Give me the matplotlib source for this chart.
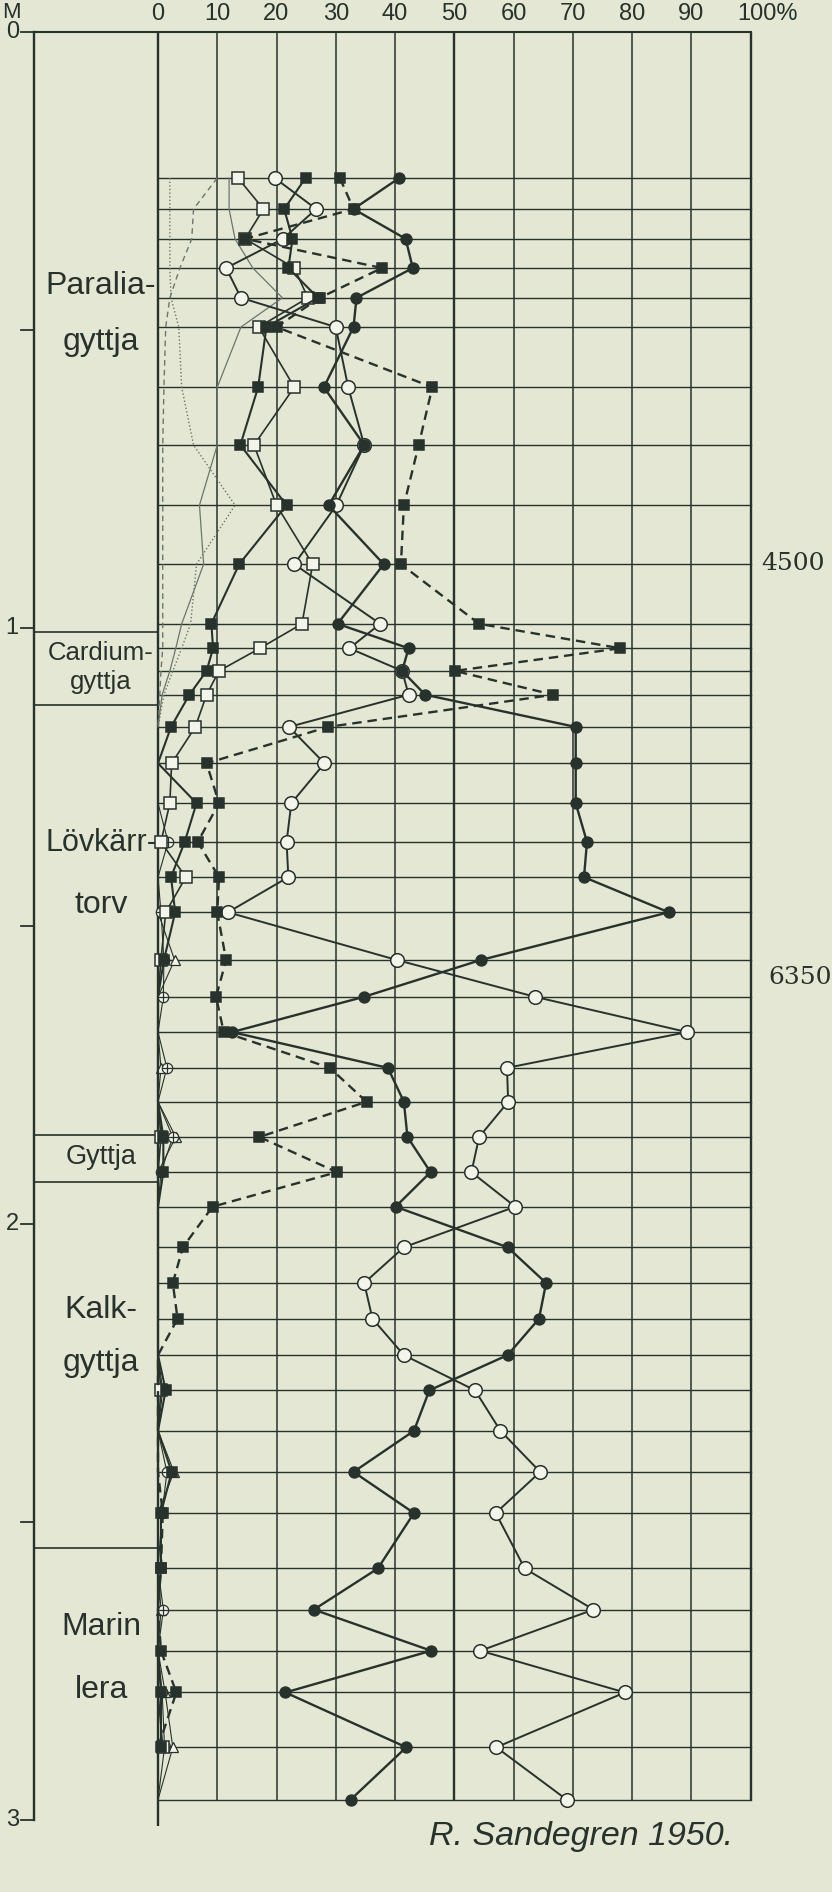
import numpy as np
import matplotlib
matplotlib.use("Agg")
import matplotlib.pyplot as plt

nan = np.nan

# ---------------- data ----------------
depths = [0.245, 0.297, 0.347, 0.396, 0.446, 0.495, 0.596, 0.693, 0.794, 0.893,
          0.993, 1.034, 1.072, 1.112, 1.166, 1.227, 1.294, 1.359, 1.418, 1.477,
          1.557, 1.619, 1.678, 1.738, 1.795, 1.854, 1.913, 1.971, 2.039, 2.099,
          2.159, 2.220, 2.279, 2.347, 2.416, 2.485, 2.578, 2.647, 2.716, 2.786,
          2.878, 2.966]

filled_circle = [40.7, 33.0, 41.8, 43.0, 33.5, 33.0, 28.0, 34.8, 28.8, 38.1,
                 30.3, 42.3, 41.2, 45.1, 70.5, 70.5, 70.5, 72.4, 71.9, 86.2,
                 54.5, 34.7, 12.5, 38.8, 41.5, 42.1, 46.0, 40.1, 59.0, 65.5,
                 64.3, 59.0, 45.8, 43.2, 33.0, 43.2, 37.1, 26.3, 46.1, 21.5,
                 41.9, 32.5]

open_circle = [19.7, 26.7, 21.1, 11.5, 14.0, 30.0, 32.1, 34.8, 30.1, 23.0,
               37.5, 32.3, 41.2, 42.3, 22.1, 28.1, 22.5, 21.7, 22.0, 11.8,
               40.3, 63.7, 89.3, 58.9, 59.1, 54.2, 52.9, 60.3, 41.5, 34.8,
               36.2, 41.5, 53.5, 57.8, 64.5, 57.0, 61.9, 73.5, 54.4, 78.8,
               57.1, 69.0]

dashed_square = [30.7, 33.0, 14.7, 37.8, 27.3, 20.0, 46.3, 44.0, 41.5, 41.0,
                 54.2, 78.0, 50.1, 66.7, 28.7, 8.2, 10.3, 6.7, 10.3, 10.0,
                 11.5, 9.8, 11.1, 29.0, 35.2, 17.1, 30.2, 9.2, 4.2, 2.5,
                 3.3, 0.0, 0.0, 0.0, 0.0, 0.8, 0.5, 0.0, 0.5, 3.1,
                 0.0, nan]

solid_square = [24.9, 21.3, 22.7, 22.0, 27.0, 18.3, 16.9, 13.9, 21.7, 13.7,
                9.0, 9.3, 8.2, 5.3, 2.2, 0.0, 6.5, 4.5, 2.2, 2.9,
                1.0, 0.0, 0.0, 0.0, 0.0, 0.9, 0.9, 0.0, 0.0, 0.0,
                0.0, 0.0, 1.3, 0.0, 2.3, 0.5, 0.5, 0.0, 0.0, 0.5,
                0.5, nan]

open_square = [13.5, 17.8, 14.7, 23.0, 25.3, 17.0, 23.0, 16.2, 20.0, 26.1,
               24.3, 17.2, 10.3, 8.2, 6.3, 2.3, 2.0, 0.5, 4.7, 1.3,
               0.5, 0.0, 0.0, 0.0, 0.0, 0.5, 0.0, 0.0, 0.0, 0.0,
               0.0, 0.0, 0.5, 0.0, 0.0, 0.0, 0.0, 0.0, 0.0, 0.0,
               0.8, nan]

cross_circle = [nan, nan, nan, nan, nan, nan, nan, nan, nan, nan,
                nan, nan, nan, nan, nan, nan, 0.0, 1.7, 0.0, 0.5,
                1.0, 0.9, 0.0, 1.5, 0.0, 2.5, 0.5, 0.0, 0.0, 0.0,
                0.0, 0.0, 0.8, 0.0, 1.5, 0.7, 0.0, 0.9, 0.0, 0.7,
                1.1, 0.0]

triangle = [nan, nan, nan, nan, nan, nan, nan, nan, nan, nan,
            nan, nan, nan, nan, nan, nan, nan, nan, nan, 0.0,
            2.8, 0.0, 0.0, 0.5, 0.0, 3.0, 0.0, 0.0, 0.0, 0.0,
            0.0, 0.0, 0.0, 0.0, 2.7, 0.0, 0.0, 0.5, 0.0, 1.2,
            2.5, 0.0]

thin_dotted = [2.0, 2.0, 2.0, 2.0, 2.2, 3.5, 4.0, 6.0, 13.0, 6.5,
               5.5, 4.0, 2.5, 1.0, 0.0] + [nan] * 27
thin_dashed = [10.0, 6.0, 5.7, 3.7, 2.0, 1.3, 1.0, 0.8, 0.8, 0.8,
               0.8, 0.8, 0.5, 0.3, 0.0] + [nan] * 27
thin_solid = [12.0, 12.0, 13.0, 16.0, 21.0, 14.0, 10.0, 10.0, 7.0, 7.7,
              4.0, 3.0, 2.0, 0.7, 0.0] + [nan] * 27

pct_ticks = [0, 10, 20, 30, 40, 50, 60, 70, 80, 90, 100]
pct_labels = ["0", "10", "20", "30", "40", "50", "60", "70", "80", "90", "100%"]
depth_ticks = [0, 0.5, 1, 1.5, 2, 2.5, 3]
depth_labels = {0: "0", 1: "1", 2: "2", 3: "3"}

sediment_bounds = [1.006, 1.129, 1.851, 1.929, 2.544]
sediment_labels = ["Paralia-", "gyttja", "Cardium-", "gyttja", "Lövkärr-", "torv",
                   "Gyttja", "Kalk-", "gyttja", "Marin", "lera"]
sediment_label_depths = [0.426, 0.520, 1.042, 1.090, 1.361, 1.465,
                         1.888, 2.144, 2.233, 2.676, 2.782]
sediment_label_sizes = [23, 23, 18.5, 18.5, 22, 23, 19.5, 23, 23, 23, 23]

age_labels = ["4500", "6350"]
age_depths = [0.891, 1.587]
age_x = [101.8, 103.1]

# ---------------- style ----------------
BG = "#e3e7d3"
INK = "#28322c"
OPEN_FACE = "#f3f4ea"
GREY = "#6d766e"
plt.rcParams["font.family"] = ["Liberation Sans", "DejaVu Sans"]

W, H = 832, 1892
fig = plt.figure(figsize=(W / 100, H / 100), dpi=100, facecolor=BG)
X0, X100 = 158.0, 750.5
Y0, Y3 = 32.0, 1820.0
ax = fig.add_axes([X0 / W, 1 - Y3 / H, (X100 - X0) / W, (Y3 - Y0) / H])
ax.set_xlim(0, 100)
ax.set_ylim(3, 0)
ax.axis("off")

AXIS_X = -21.0
bottom = depths[-1]

# grid
for p in pct_ticks:
    y_end = 3.01 if p == 0 else bottom
    lw = 1.7 if p in (0, 50, 100) else 1.1
    ax.plot([p, p], [0, y_end], color=INK, lw=lw, clip_on=False, zorder=1,
            solid_capstyle="butt")
for d in depths:
    ax.plot([0, 100], [d, d], color=INK, lw=1.0, clip_on=False, zorder=1)
ax.plot([AXIS_X, 100], [0, 0], color=INK, lw=1.5, clip_on=False, zorder=1)
ax.plot([AXIS_X, AXIS_X], [0, 3.0], color=INK, lw=1.7, clip_on=False, zorder=1)
for d in depth_ticks:
    ax.plot([AXIS_X - 2.2, AXIS_X], [d, d], color=INK, lw=1.3, clip_on=False, zorder=1)
for d, lab in depth_labels.items():
    ax.text(AXIS_X - 3.6, d, lab, ha="center", va="center", fontsize=17, color=INK)
ax.text(AXIS_X - 3.8, -0.033, "M", ha="center", va="center", fontsize=16, color=INK)
for b in sediment_bounds:
    ax.plot([AXIS_X, 0], [b, b], color=INK, lw=1.2, clip_on=False, zorder=1)

for p, lab in zip(pct_ticks, pct_labels):
    if lab.endswith("%"):
        ax.text(p - 2.2, -0.030, lab, ha="left", va="center", fontsize=17, color=INK)
    else:
        ax.text(p, -0.030, lab, ha="center", va="center", fontsize=17, color=INK)

for lab, d, s in zip(sediment_labels, sediment_label_depths, sediment_label_sizes):
    ax.text(-9.6, d, lab, ha="center", va="center", fontsize=s, color=INK)

for lab, d, x in zip(age_labels, age_depths, age_x):
    ax.text(x, d, lab, ha="left", va="center", fontsize=18, color=INK,
            family=["DejaVu Serif"])

fig.text(581 / W, 1 - 1836 / H, "R. Sandegren 1950.", ha="center", va="center",
         fontsize=24.5, style="italic", color=INK)

dep = np.array(depths, float)


def series(vals, marker, ms, filled, lw, ls="-", z=3, color=INK, mew=1.1):
    v = np.array(vals, float)
    ax.plot(v, dep, color=color, lw=lw, ls=ls, zorder=z, clip_on=False)
    if marker is None:
        return
    m = np.nan_to_num(v, nan=0.0) > 0
    ax.plot(v[m], dep[m], ls="none", marker=marker, ms=ms,
            mfc=INK if filled else OPEN_FACE, mec=INK, mew=mew,
            zorder=z + 0.5, clip_on=False)


# thin unmarked curves
series(thin_dotted, None, 0, False, 1.0, ls=(0, (1, 1.6)), z=2, color=GREY)
series(thin_dashed, None, 0, False, 1.0, ls=(0, (4, 3)), z=2, color=GREY)
series(thin_solid, None, 0, False, 0.9, z=2, color=GREY)

# minor taxa near zero
series(triangle, "^", 6.5, False, 0.8, z=2.2, mew=0.9)
series(cross_circle, "o", 7.5, False, 0.8, z=2.3, mew=0.9)
cc = np.array(cross_circle, float)
mcc = np.nan_to_num(cc, nan=0.0) > 0
ax.plot(cc[mcc], dep[mcc], ls="none", marker="+", ms=7.5, mec=INK, mew=0.9,
        zorder=3, clip_on=False)

# main curves
series(open_square, "s", 9, False, 1.2, z=3)
series(open_circle, "o", 9.8, False, 1.4, z=3.2)
series(solid_square, "s", 7.4, True, 1.5, z=4)
series(dashed_square, "s", 7.4, True, 1.7, ls=(0, (4, 2.5)), z=4.2)
series(filled_circle, "o", 7.8, True, 1.7, z=4.4)

fig.savefig("out.png", dpi=100, facecolor=BG)
